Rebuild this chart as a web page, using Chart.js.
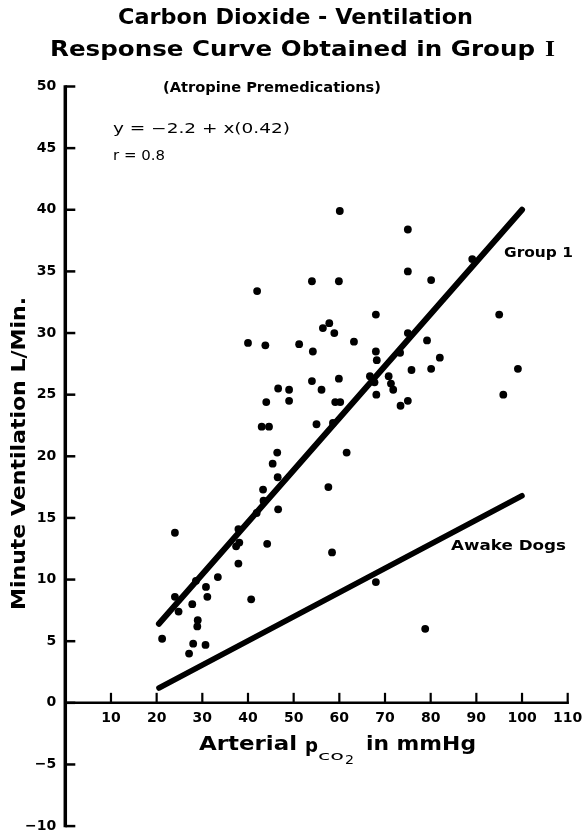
<!DOCTYPE html>
<html>
<head>
<meta charset="utf-8">
<script src="https://cdn.jsdelivr.net/npm/chart.js@4/dist/chart.umd.min.js"></script>
<style>
  html, body { margin: 0; padding: 0; background: #fff; }
  #wrap { width: 583px; height: 830px; position: relative; }
</style>
</head>
<body>
<div id="wrap"><canvas id="c" width="583" height="830"></canvas></div>
<script>
// Individual observations: arterial pCO2 (mmHg) and minute ventilation (L/min)
const pco2 = [
  60.1, 54.0, 59.9, 42.0, 57.8, 56.4, 58.9, 40.0, 43.8, 51.2,
  54.2, 54.0, 59.9, 56.1, 46.6, 49.0, 44.0, 49.0, 59.1, 60.2,
  75.0, 75.0, 80.1, 68.0, 95.0, 63.2, 75.0, 79.2, 89.1, 68.0,
  68.2, 73.3, 82.0, 80.1, 75.8, 99.1, 66.7, 67.7, 70.8, 71.3,
  71.8, 68.1, 73.4, 75.0, 95.9, 43.0, 44.6, 55.0, 58.6, 46.4,
  45.4, 46.5, 57.6, 43.3, 43.4, 46.6, 41.9, 37.9, 24.0, 38.1,
  37.4, 44.2, 58.4, 37.9, 33.4, 30.8, 28.6, 24.0, 31.1, 40.7,
  27.8, 24.8, 29.0, 28.9, 21.2, 28.0, 30.7, 27.1, 61.6, 68.0,
  78.8
];
const ventilation = [
  39.9, 34.2, 34.2, 33.4, 30.8, 30.4, 30.0, 29.2, 29.0, 29.1,
  28.5, 26.1, 26.3, 25.4, 25.5, 25.4, 24.4, 24.5, 24.4, 24.4,
  38.4, 35.0, 34.3, 31.5, 31.5, 29.3, 30.0, 29.4, 36.0, 28.5,
  27.8, 28.4, 28.0, 27.1, 27.0, 27.1, 26.5, 26.0, 26.5, 25.9,
  25.4, 25.0, 24.1, 24.5, 25.0, 22.4, 22.4, 22.6, 22.7, 20.3,
  19.4, 18.3, 17.5, 17.3, 16.4, 15.7, 15.4, 14.1, 13.8, 13.0,
  12.7, 12.9, 12.2, 11.3, 10.2, 9.4, 9.9, 8.6, 8.6, 8.4,
  8.0, 7.4, 6.7, 6.2, 5.2, 4.8, 4.7, 4.0, 20.3, 9.8,
  6.0
];

// Regression line for Group I: y = -2.2 + 0.42x, drawn from 20.5 to 100 mmHg
const group1X = [20.5, 100];
const group1Y = [6.41, 40.0];

// Reference response line for awake dogs
const awakeX = [20.5, 100];
const awakeY = [1.2, 16.8];

// Axis ticks
const xTicks = [10, 20, 30, 40, 50, 60, 70, 80, 90, 100, 110];
const yTicks = [50, 45, 40, 35, 30, 25, 20, 15, 10, 5, 0, -5, -10];

const INK = '#000';
const FACE = '"DejaVu Sans", "Noto Sans", sans-serif';

function pairs(xs, ys) { return xs.map((x, i) => ({ x: x, y: ys[i] })); }
function signed(v) { return v < 0 ? '\u2212' + Math.abs(v) : String(v); }

// Draws a string starting at `left`, vertically centred on `cy`,
// squeezed or stretched horizontally to the given width.
function spanText(ctx, str, left, cy, font, width) {
  ctx.font = font;
  const w = ctx.measureText(str).width;
  const s = width ? width / w : 1;
  ctx.save();
  ctx.translate(left, cy);
  ctx.scale(s, 1);
  ctx.textAlign = 'left';
  ctx.textBaseline = 'middle';
  ctx.fillText(str, 0, 0);
  ctx.restore();
}

// Axes drawn as in the printed figure: y axis at x = 0, x axis crossing at y = 0
const handAxes = {
  id: 'handAxes',
  afterDatasetsDraw(chart) {
    const { ctx, scales: { x, y } } = chart;
    const x0 = x.getPixelForValue(0);
    const y0 = y.getPixelForValue(0);
    const yTop = y.getPixelForValue(yTicks[0]);
    const yBot = y.getPixelForValue(yTicks[yTicks.length - 1]);
    ctx.save();
    ctx.strokeStyle = INK;
    ctx.fillStyle = INK;
    ctx.lineCap = 'butt';

    // vertical axis
    ctx.lineWidth = 3.5;
    ctx.beginPath();
    ctx.moveTo(x0, yTop - 1.25);
    ctx.lineTo(x0, yBot + 1.25);
    ctx.stroke();

    // its ticks, pointing right
    ctx.lineWidth = 2.5;
    yTicks.forEach(v => {
      const py = y.getPixelForValue(v);
      ctx.beginPath();
      ctx.moveTo(x0, py);
      ctx.lineTo(x0 + 10, py);
      ctx.stroke();
    });

    ctx.font = 'bold 14px ' + FACE;
    ctx.textAlign = 'right';
    ctx.textBaseline = 'middle';
    yTicks.forEach(v => {
      ctx.fillText(signed(v), x0 - 9, y.getPixelForValue(v));
    });

    // horizontal axis at zero
    ctx.lineWidth = 2.5;
    ctx.beginPath();
    ctx.moveTo(x0, y0);
    ctx.lineTo(x.getPixelForValue(xTicks[xTicks.length - 1]) + 1, y0);
    ctx.stroke();

    ctx.lineWidth = 2.2;
    ctx.textAlign = 'center';
    xTicks.forEach(v => {
      const px = x.getPixelForValue(v);
      ctx.beginPath();
      ctx.moveTo(px, y0 + 1);
      ctx.lineTo(px, y0 - 10);
      ctx.stroke();
      ctx.fillText(String(v), px, y0 + 16);
    });
    ctx.restore();
  }
};

// Titles, annotations and axis titles
const figureText = {
  id: 'figureText',
  afterDraw(chart) {
    const ctx = chart.ctx;
    ctx.save();
    ctx.fillStyle = INK;

    spanText(ctx, 'Carbon Dioxide - Ventilation', 118, 19, 'bold 21px ' + FACE, 355);
    spanText(ctx, 'Response Curve Obtained in Group', 50, 51, 'bold 21px ' + FACE, 485);
    spanText(ctx, 'I', 545, 50, 'bold 24px "Liberation Serif", serif', 10);

    spanText(ctx, '(Atropine Premedications)', 163, 88, 'bold 14px ' + FACE, 218);
    spanText(ctx, 'y = \u22122.2 + x(0.42)', 113, 129, '14px ' + FACE, 177);
    spanText(ctx, 'r = 0.8', 113, 156, '14px ' + FACE, 52);

    spanText(ctx, 'Group 1', 504, 253, 'bold 14px ' + FACE, 69);
    spanText(ctx, 'Awake Dogs', 451, 546, 'bold 14px ' + FACE, 115);

    // x-axis title with subscripted CO2
    spanText(ctx, 'Arterial', 199, 745, 'bold 19px ' + FACE, 98);
    spanText(ctx, 'p', 305, 747, 'bold 19px ' + FACE, 13);
    spanText(ctx, 'co', 318, 757, '13px ' + FACE, 26);
    spanText(ctx, '2', 345, 761, '13px ' + FACE, 9);
    spanText(ctx, 'in mmHg', 366, 745, 'bold 19px ' + FACE, 110);

    // y-axis title, rotated
    ctx.save();
    ctx.translate(20, 610);
    ctx.rotate(-Math.PI / 2);
    spanText(ctx, 'Minute Ventilation L/Min.', 0, 0, 'bold 19px ' + FACE, 313);
    ctx.restore();

    ctx.restore();
  }
};

new Chart(document.getElementById('c').getContext('2d'), {
  type: 'scatter',
  data: {
    datasets: [
      {
        label: 'Group I',
        data: pairs(pco2, ventilation),
        pointRadius: 3.9,
        pointHoverRadius: 3.9,
        backgroundColor: INK,
        borderWidth: 0
      },
      {
        label: 'Group 1',
        type: 'line',
        data: pairs(group1X, group1Y),
        borderColor: INK,
        borderWidth: 6,
        borderCapStyle: 'round',
        pointRadius: 0,
        fill: false
      },
      {
        label: 'Awake Dogs',
        type: 'line',
        data: pairs(awakeX, awakeY),
        borderColor: INK,
        borderWidth: 5.5,
        borderCapStyle: 'round',
        pointRadius: 0,
        fill: false
      }
    ]
  },
  options: {
    responsive: false,
    animation: false,
    events: [],
    layout: { padding: { left: 65.3, right: 15.3, top: 86.5, bottom: 3.7 } },
    scales: {
      x: { type: 'linear', min: 0, max: 110, display: false },
      y: { type: 'linear', min: -10, max: 50, display: false }
    },
    plugins: {
      legend: { display: false },
      tooltip: { enabled: false },
      title: { display: false }
    }
  },
  plugins: [handAxes, figureText]
});
</script>
</body>
</html>
